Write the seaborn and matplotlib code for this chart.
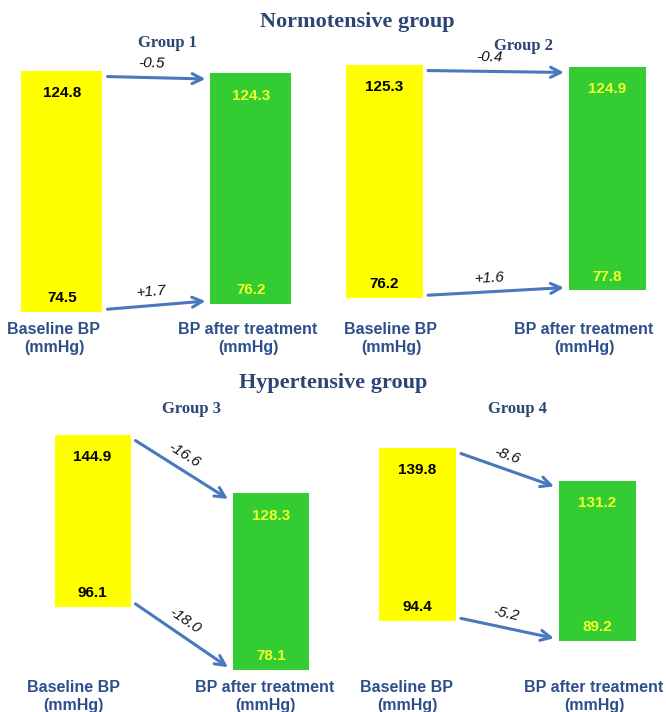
import numpy as np
import matplotlib
matplotlib.use("Agg")
import matplotlib.pyplot as plt
import matplotlib.transforms as mtransforms
import seaborn as sns

# Blood pressure (mmHg) before and after treatment
sections = ["Normotensive group", "Hypertensive group"]
groups = ["Group 1", "Group 2", "Group 3", "Group 4"]
bar_labels = ["Baseline BP\n(mmHg)", "BP after treatment\n(mmHg)"]
baseline_sbp = [124.8, 125.3, 144.9, 139.8]
baseline_dbp = [74.5, 76.2, 96.1, 94.4]
treated_sbp = [124.3, 124.9, 128.3, 131.2]
treated_dbp = [76.2, 77.8, 78.1, 89.2]

YELLOW = "#ffff00"
GREEN = "#33cc33"
VALUE_ON_GREEN = "#f2ff2e"
ARROW = "#4a78bd"
LABEL_BLUE = "#2f4f8c"
TITLE_BLUE = "#2b4574"

sns.set_theme(style="white")
plt.rcParams["font.family"] = ["Liberation Sans", "DejaVu Sans"]

W, H = 666, 712
fig = plt.figure(figsize=(W / 100, H / 100), dpi=100)
fig.patch.set_facecolor("white")


def px_axes(left, top, right, bottom):
    return fig.add_axes([left / W, 1 - bottom / H, (right - left) / W, (bottom - top) / H])


# pixel layout of each panel: bar centres, bar width, where the extreme
# values sit vertically, the axis baseline and the centres of the captions
panels = [
    dict(c0=62, c1=251, bw=81, hi=71, lo=312, base=316, ticks=(54, 248), title=(167, 43)),
    dict(c0=384.5, c1=607.5, bw=77, hi=65, lo=298, base=316, ticks=(391, 584), title=(524, 46)),
    dict(c0=92.5, c1=271, bw=76, hi=435, lo=670, base=674, ticks=(73, 265), title=(192, 409)),
    dict(c0=417.5, c1=597.5, bw=77, hi=448, lo=641, base=674, ticks=(407, 594), title=(517, 409)),
]
label_frac = 0.45

for i, p in enumerate(panels):
    d = p["c1"] - p["c0"]
    left, right = p["c0"] - 70, p["c1"] + 70
    top = p["hi"] - 30
    ax = px_axes(left, top, right, p["base"])
    ax.set_facecolor("none")

    tops = [baseline_sbp[i], treated_sbp[i]]
    bottoms = [baseline_dbp[i], treated_dbp[i]]
    width = p["bw"] / d

    sns.barplot(x=bar_labels, y=tops, hue=bar_labels, palette=[YELLOW, GREEN],
                width=width, saturation=1, legend=False, ax=ax)
    # floating bars: each spans diastolic -> systolic
    for patch, b, t in zip(ax.patches, bottoms, tops):
        patch.set_y(b)
        patch.set_height(t - b)
        patch.set_linewidth(0)

    vmax, vmin = max(tops), min(bottoms)
    s = (p["lo"] - p["hi"]) / (vmax - vmin)
    ax.set_ylim(vmin - (p["base"] - p["lo"]) / s, vmax + (p["hi"] - top) / s)
    ax.set_xlim((left - p["c0"]) / d, (right - p["c0"]) / d)

    sns.despine(ax=ax, left=True, bottom=True)
    ax.set_yticks([])
    ax.set_xticks([(t - p["c0"]) / d for t in p["ticks"]], bar_labels)
    ax.set_xlabel("")
    ax.set_ylabel("")
    ax.grid(False)
    ax.tick_params(axis="x", length=0, pad=4, labelsize=11.5, labelcolor=LABEL_BLUE)
    for lbl in ax.get_xticklabels():
        lbl.set_fontweight("bold")
        lbl.set_linespacing(1.25)

    # values inside the bars
    for x, b, t, col in zip([0, 1], bottoms, tops, ["black", VALUE_ON_GREEN]):
        ax.annotate(f"{t:.1f}", (x, t), xytext=(0, -16), textcoords="offset points",
                    ha="center", va="center", fontsize=11, fontweight="bold", color=col)
        ax.annotate(f"{b:.1f}", (x, b), xytext=(0, 10), textcoords="offset points",
                    ha="center", va="center", fontsize=11, fontweight="bold", color=col)

    # arrows showing the change, labelled with the difference
    gap = 5 / d
    x0, x1 = width / 2 + gap, 1 - width / 2 - gap
    for (y0, y1), inset in [((tops[0], tops[1]), -4), ((bottoms[0], bottoms[1]), 2)]:
        tr = mtransforms.offset_copy(ax.transData, fig=fig, y=inset, units="points")
        ax.annotate("", xy=(x1, y1), xytext=(x0, y0), xycoords=tr, textcoords=tr,
                    arrowprops=dict(arrowstyle="->", color=ARROW, lw=2.2,
                                    shrinkA=0, shrinkB=0, mutation_scale=18))
        (X0, Y0), (X1, Y1) = tr.transform([(x0, y0), (x1, y1)])
        ang = np.degrees(np.arctan2(Y1 - Y0, X1 - X0))
        nx, ny = -np.sin(np.radians(ang)), np.cos(np.radians(ang))
        xm = x0 + label_frac * (x1 - x0)
        ym = y0 + label_frac * (y1 - y0)
        ax.annotate(f"{y1 - y0:+.1f}", (xm, ym), xycoords=tr, xytext=(10 * nx, 10 * ny),
                    textcoords="offset points", rotation=ang, rotation_mode="anchor",
                    ha="center", va="center", fontsize=11, style="italic", color="#111111")

    tx, ty = p["title"]
    fig.text(tx / W, 1 - ty / H, groups[i], ha="center", va="center",
             fontsize=12, fontweight="bold", color=TITLE_BLUE, family="Liberation Serif")

for name, (tx, ty) in zip(sections, [(357, 22), (333, 383)]):
    fig.text(tx / W, 1 - ty / H, name, ha="center", va="center",
             fontsize=16, fontweight="bold", color=TITLE_BLUE, family="Liberation Serif")

fig.savefig("out.png", dpi=100, facecolor="white")
